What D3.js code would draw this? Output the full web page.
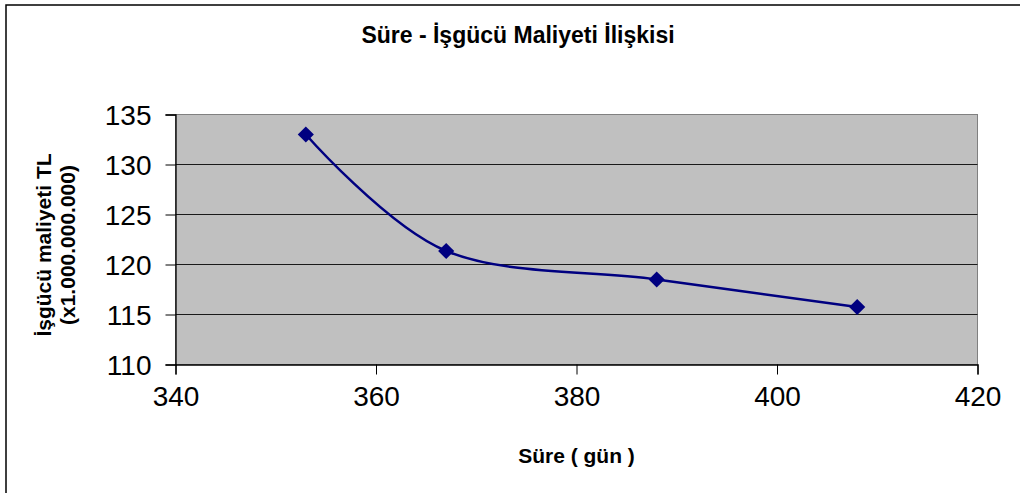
<!DOCTYPE html>
<html>
<head>
  <meta charset="UTF-8">
  <script src="https://d3js.org/d3.v7.min.js"></script>
  <style>
    body { margin: 0; background: #fff; overflow: hidden; }
    svg { display: block; }
    text { font-family: Arial, "Liberation Sans", sans-serif; fill: #000; }
  </style>
</head>
<body>
<svg></svg>
<script>

// chart data
var sureGun = [353, 367, 388, 408];
var maliyet = [133, 121.35, 118.5, 115.75];
var xTicks = [340, 360, 380, 400, 420];
var yTicks = [110, 115, 120, 125, 130, 135];

var width = 1020, height = 493;
var plot = {left: 175.5, right: 977.5, top: 114.5, bottom: 364.5};

var svg = d3.select("svg")
    .attr("width", width)
    .attr("height", height);

// outer chart border (cut off at right/bottom like the original)
svg.append("rect")
    .attr("x", 6).attr("y", 5)
    .attr("width", 1030).attr("height", 500)
    .attr("fill", "#fff")
    .attr("stroke", "#000")
    .attr("stroke-width", 1.5);

var x = d3.scaleLinear().domain([340, 420]).range([plot.left, plot.right]);
var y = d3.scaleLinear().domain([110, 135]).range([plot.bottom, plot.top]);

// plot area
svg.append("rect")
    .attr("x", plot.left).attr("y", plot.top)
    .attr("width", plot.right - plot.left)
    .attr("height", plot.bottom - plot.top)
    .attr("fill", "#c0c0c0")
    .attr("stroke", "#808080")
    .attr("stroke-width", 1);

// gridlines
svg.append("g")
  .selectAll("line")
  .data(yTicks.slice(1, -1))
  .enter().append("line")
    .attr("x1", plot.left).attr("x2", plot.right)
    .attr("y1", d => y(d)).attr("y2", d => y(d))
    .attr("stroke", "#1a1a1a")
    .attr("stroke-width", 1);

// axes
var xAxis = svg.append("g")
    .attr("transform", "translate(0," + plot.bottom + ")")
    .call(d3.axisBottom(x).tickValues(xTicks).tickSize(10).tickPadding(12));
var yAxis = svg.append("g")
    .attr("transform", "translate(" + plot.left + ",0)")
    .call(d3.axisLeft(y).tickValues(yTicks).tickSize(10).tickPadding(14));

[xAxis, yAxis].forEach(function(a) {
  a.select(".domain").attr("stroke", "#000").attr("stroke-width", 1.3);
  a.selectAll(".tick line").attr("stroke", "#000").attr("stroke-width", 1);
  a.selectAll("text")
    .style("font-family", "Arial, 'Liberation Sans', sans-serif")
    .style("font-size", "28px")
    .attr("fill", "#000");
});
yAxis.selectAll(".tick text").attr("dy", "0.36em");

// line
var pts = sureGun.map((d, i) => [d, maliyet[i]]);
var line = d3.line()
    .x(d => x(d[0]))
    .y(d => y(d[1]))
    .curve(d3.curveCardinal.tension(0));

svg.append("path")
    .datum(pts)
    .attr("d", line)
    .attr("fill", "none")
    .attr("stroke", "#000080")
    .attr("stroke-width", 2.5);

// diamond markers
svg.append("g")
  .selectAll("path")
  .data(pts)
  .enter().append("path")
    .attr("d", d3.symbol().type(d3.symbolSquare).size(130))
    .attr("transform", d => "translate(" + x(d[0]) + "," + y(d[1]) + ") rotate(45)")
    .attr("fill", "#000080");

// titles
svg.append("text")
    .attr("x", 518).attr("y", 43)
    .attr("text-anchor", "middle")
    .style("font-size", "23px")
    .style("font-weight", "bold")
    .text("Süre - İşgücü Maliyeti İlişkisi");

svg.append("text")
    .attr("x", (plot.left + plot.right) / 2).attr("y", 463)
    .attr("text-anchor", "middle")
    .style("font-size", "21px")
    .style("font-weight", "bold")
    .text("Süre ( gün )");

var yLab = svg.append("text")
    .attr("transform", "translate(0,245) rotate(-90)")
    .attr("text-anchor", "middle")
    .style("font-size", "21px")
    .style("font-weight", "bold");
yLab.append("tspan").attr("x", 0).attr("y", 51).text("İşgücü maliyeti TL");
yLab.append("tspan").attr("x", 0).attr("y", 75).text("(x1.000.000.000)");

</script>
</body>
</html>
